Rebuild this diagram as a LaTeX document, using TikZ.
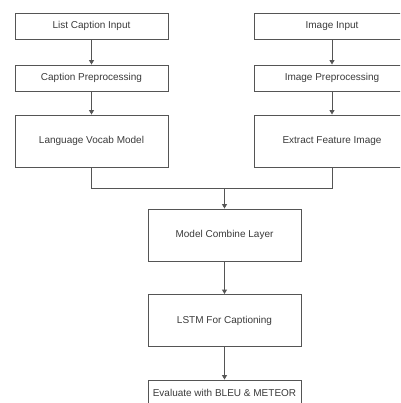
\documentclass[tikz,border=0pt]{standalone}
\usepackage{fontspec}
\setmainfont{Liberation Sans}
\usetikzlibrary{arrows.meta}
\definecolor{boxline}{HTML}{555555}
\definecolor{txt}{HTML}{3A3A3A}
\tikzset{
  stagebox/.style={draw=boxline, line width=0.9pt, rectangle, inner sep=0pt,
    minimum width=153pt, text=txt, font=\fontsize{10}{12}\selectfont},
  smallbox/.style={stagebox, minimum height=26pt},
  bigbox/.style={stagebox, minimum height=52pt},
  link/.style={draw=boxline, line width=0.9pt},
  flow/.style={link, -{Triangle[width=5pt,length=4.5pt]}}
}
\begin{document}
\begin{tikzpicture}[x=1pt,y=-1pt]
\useasboundingbox (0,0) rectangle (400,403);
\clip (0,0) rectangle (400,403);
% left column
\node[smallbox] (lci) at (91.5,26) {List Caption Input};
\node[smallbox] (cp) at (91.5,78) {Caption Preprocessing};
\node[bigbox] (lvm) at (91.5,141) {Language Vocab Model};
% right column
\node[smallbox, minimum width=156pt] (ii) at (332,26) {Image Input};
\node[smallbox, minimum width=156pt] (ip) at (332,78) {Image Preprocessing};
\node[bigbox, minimum width=156pt] (efi) at (332,141) {Extract Feature Image};
% middle column
\node[bigbox] (mcl) at (224.5,235) {Model Combine Layer};
\node[bigbox] (lstm) at (224.5,320.5) {LSTM For Captioning};
\node[smallbox] (eval) at (224.5,393) {Evaluate with BLEU \& METEOR};
% connectors
\draw[flow] (lci) -- (cp);
\draw[flow] (cp) -- (lvm);
\draw[flow] (ii) -- (ip);
\draw[flow] (ip) -- (efi);
\coordinate (j) at (224.5,188);
\draw[link] (lvm.south) |- (j);
\draw[link] (efi.south) |- (j);
\draw[flow] (j) -- (mcl.north);
\draw[flow] (mcl) -- (lstm);
\draw[flow] (lstm) -- (eval);
\end{tikzpicture}
\end{document}
